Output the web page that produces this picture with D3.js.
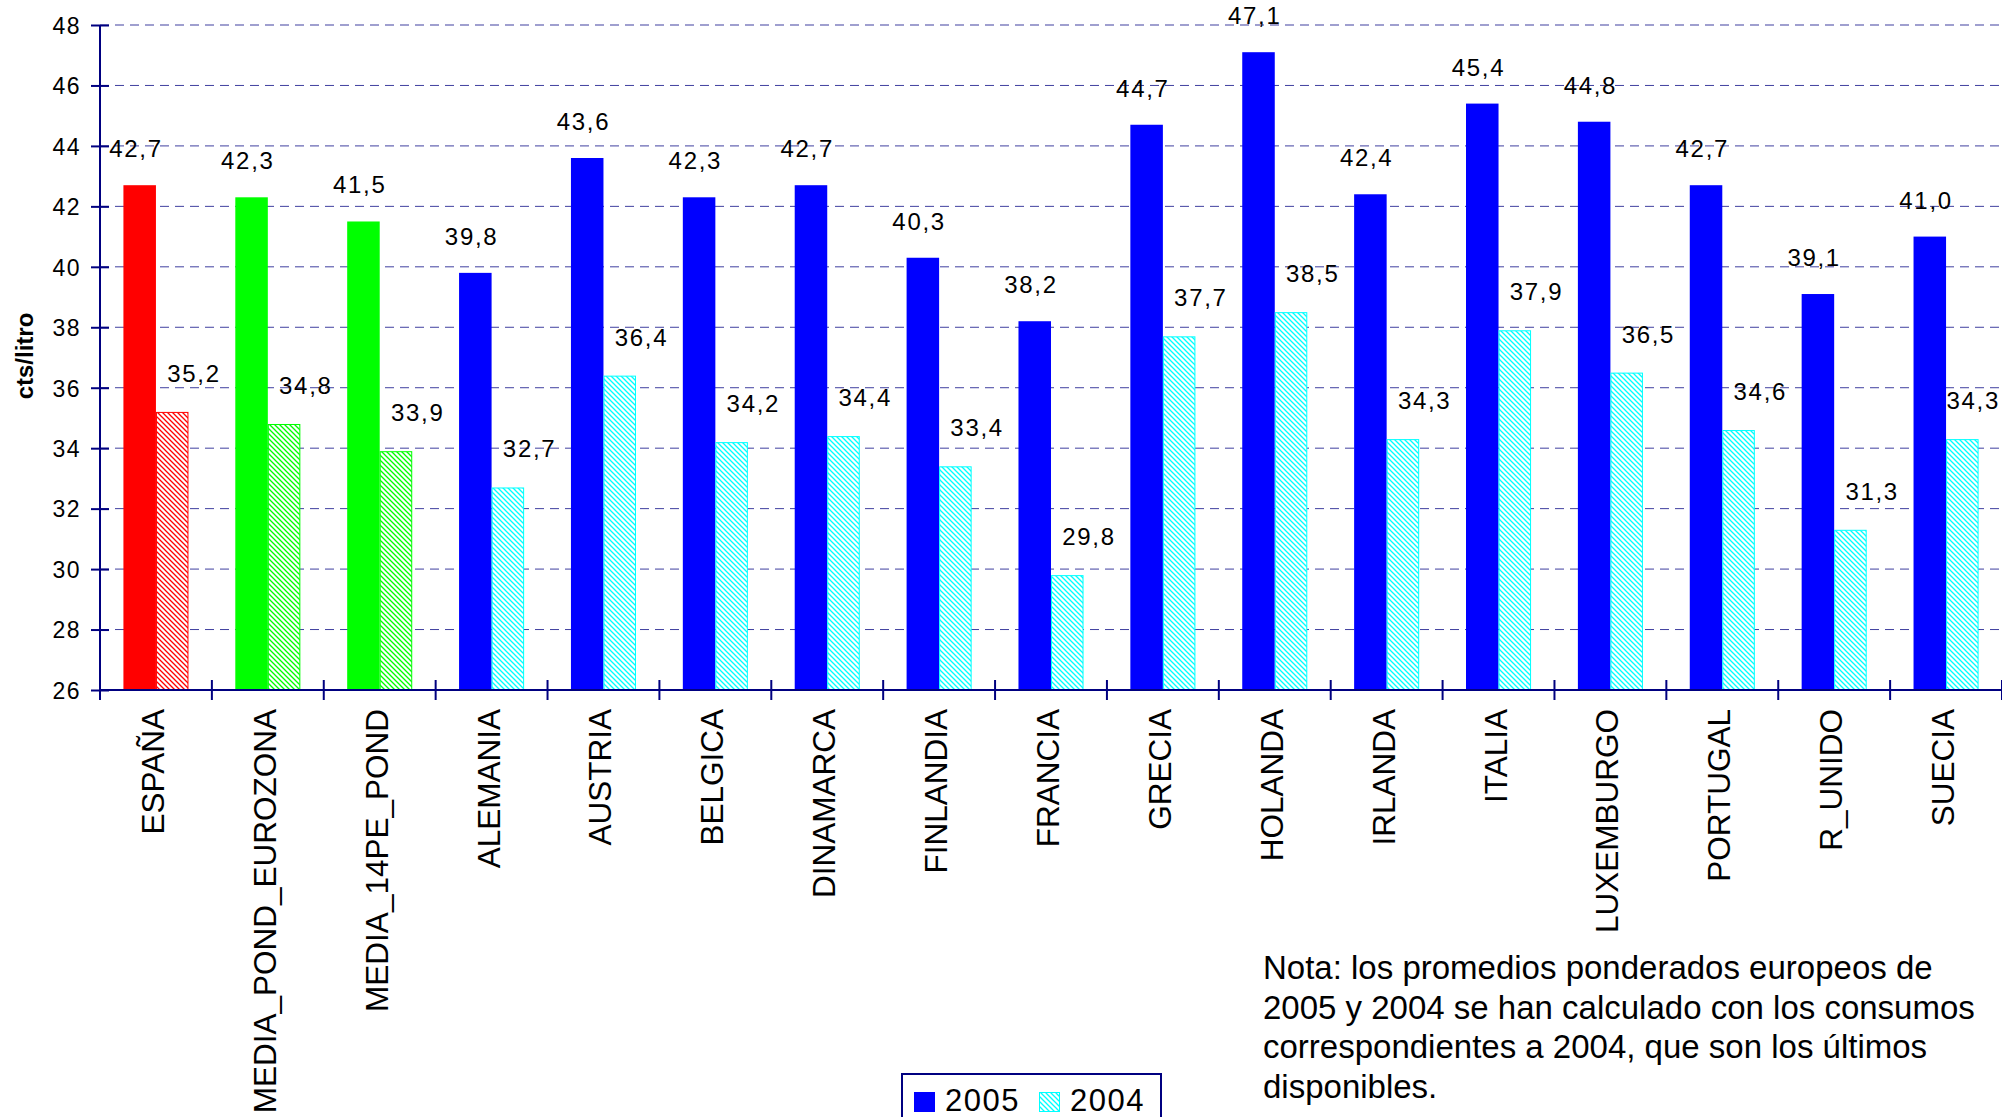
<!DOCTYPE html>
<html>
<head>
<meta charset="utf-8">
<script src="https://cdn.jsdelivr.net/npm/d3@7/dist/d3.min.js"></script>
<style>
  html, body { margin: 0; padding: 0; background: #fff; }
  svg { display: block; }
  text { font-family: "Liberation Sans", Arial, sans-serif; fill: #000; }
</style>
</head>
<body>
<svg id="chart" width="2002" height="1117"></svg>
<script>
// ---- data ----
const categories = ["ESPAÑA", "MEDIA_POND_EUROZONA", "MEDIA_14PE_POND", "ALEMANIA", "AUSTRIA", "BELGICA",
  "DINAMARCA", "FINLANDIA", "FRANCIA", "GRECIA", "HOLANDA", "IRLANDA", "ITALIA", "LUXEMBURGO",
  "PORTUGAL", "R_UNIDO", "SUECIA"];
const groups = ["es", "media", "media", "pais", "pais", "pais", "pais", "pais", "pais", "pais",
  "pais", "pais", "pais", "pais", "pais", "pais", "pais"];
const series = ["2005", "2004"];
const values2005 = [42.7, 42.3, 41.5, 39.8, 43.6, 42.3, 42.7, 40.3, 38.2, 44.7, 47.1, 42.4, 45.4, 44.8, 42.7, 39.1, 41.0];
const values2004 = [35.2, 34.8, 33.9, 32.7, 36.4, 34.2, 34.4, 33.4, 29.8, 37.7, 38.5, 34.3, 37.9, 36.5, 34.6, 31.3, 34.3];
const yTicks = [26, 28, 30, 32, 34, 36, 38, 40, 42, 44, 46, 48];
const yLabel = "cts/litro";
const noteLines = [
  "Nota: los promedios ponderados europeos de",
  "2005 y 2004 se han calculado con los consumos",
  "correspondientes a 2004, que son los últimos",
  "disponibles."
];

// ---- layout ----
const mLeft = 100, mRight = 2002, mTop = 25, mBottom = 690;
const W = 2002;
const navy = "#000080";
const groupColor = d3.scaleOrdinal().domain(["es", "media", "pais"]).range(["#ff0000", "#00ff00", "#0000ff"]);
const groupHatch = d3.scaleOrdinal().domain(["es", "media", "pais"]).range(["#ff0000", "#00ff00", "#00ffff"]);

const svg = d3.select("#chart");
const defs = svg.append("defs");
["es", "media", "pais"].forEach(g => {
  const p = defs.append("pattern").attr("id", "hatch-" + g)
    .attr("patternUnits", "userSpaceOnUse").attr("width", 5).attr("height", 5);
  p.append("rect").attr("width", 5).attr("height", 5).attr("fill", "#fff");
  p.append("path").attr("d", "M-1,-1 L6,6 M-1,4 L1,6 M4,-1 L6,1")
    .attr("stroke", groupHatch(g)).attr("stroke-width", 1.3).attr("fill", "none");
});

const x = d3.scaleBand().domain(categories).range([mLeft, mRight]).padding(0);
const x1 = d3.scaleBand().domain(series).range([0, x.bandwidth()]).paddingInner(0).paddingOuter(0.72);
const y = d3.scaleLinear().domain([26, 48]).range([mBottom, mTop]);

const fmt = d3.formatLocale({ decimal: ",", thousands: ".", grouping: [3], currency: ["", "€"] }).format(".1f");

// gridlines
svg.append("g").selectAll("line").data(yTicks.filter(t => t !== 26)).join("line")
  .attr("x1", mLeft).attr("x2", mRight)
  .attr("y1", d => y(d)).attr("y2", d => y(d))
  .attr("stroke", navy).attr("stroke-width", 1).attr("stroke-dasharray", "9,6").attr("opacity", 0.75);

// data
const rows = categories.map((c, i) => ({ c, g: groups[i], v2005: values2005[i], v2004: values2004[i] }));

const gBars = svg.append("g");
gBars.selectAll("rect.b2005").data(rows).join("rect").attr("class", "b2005")
  .attr("x", d => x(d.c) + x1("2005")).attr("width", x1.bandwidth())
  .attr("y", d => y(d.v2005)).attr("height", d => y(26) - y(d.v2005))
  .attr("fill", d => groupColor(d.g));
gBars.selectAll("rect.b2004").data(rows).join("rect").attr("class", "b2004")
  .attr("x", d => x(d.c) + x1("2004") + 0.5).attr("width", x1.bandwidth() - 1)
  .attr("y", d => y(d.v2004) + 0.5).attr("height", d => y(26) - y(d.v2004) - 0.5)
  .attr("fill", d => "url(#hatch-" + d.g + ")")
  .attr("stroke", d => groupHatch(d.g)).attr("stroke-width", 1);

// value labels
const gLab = svg.append("g").style("font-size", "24px").style("letter-spacing", "1.7px");
gLab.selectAll("text.l2005").data(rows).join("text").attr("class", "l2005")
  .attr("x", d => x(d.c) + x.bandwidth() / 2 - 20).attr("y", d => y(d.v2005) - 28)
  .attr("text-anchor", "middle").text(d => fmt(d.v2005))
  .each(function () {
    const bb = this.getBBox();
    if (bb.y < 2) this.setAttribute("y", +this.getAttribute("y") + (2 - bb.y));
  });
gLab.selectAll("text.l2004").data(rows).join("text").attr("class", "l2004")
  .attr("x", d => x(d.c) + x.bandwidth() / 2 + 38).attr("y", d => y(d.v2004) - 30)
  .attr("text-anchor", "middle").text(d => fmt(d.v2004))
  .each(function () {
    const w = this.getComputedTextLength();
    const cx = +this.getAttribute("x");
    if (cx + w / 2 > W - 2) this.setAttribute("x", W - 2 - w / 2);
  });

// y axis
const yAxis = svg.append("g").attr("transform", `translate(${mLeft},0)`)
  .call(d3.axisLeft(y).tickValues(yTicks).tickFormat(d3.format("d")).tickSize(9).tickPadding(12));
yAxis.attr("font-family", null);
yAxis.select(".domain").attr("d", `M0,${mTop}V${mBottom + 10}`).attr("stroke", navy).attr("stroke-width", 2);
yAxis.selectAll(".tick line").attr("x1", -9).attr("x2", 9).attr("stroke", navy).attr("stroke-width", 2);
yAxis.selectAll(".tick text").style("font-size", "23px").style("letter-spacing", "1.5px")
  .attr("x", -19).attr("dy", "0.36em");

// x axis
const xAxis = svg.append("g").attr("transform", `translate(0,${mBottom})`)
  .call(d3.axisBottom(x).tickSize(0));
xAxis.attr("font-family", null);
xAxis.select(".domain").attr("d", `M${mLeft},0H${mRight}`).attr("stroke", navy).attr("stroke-width", 2);
xAxis.selectAll(".tick text")
  .attr("transform", "rotate(-90)").attr("text-anchor", "end")
  .attr("x", -19).attr("y", 8).attr("dy", 0)
  .style("font-size", "31.5px");
xAxis.append("g").selectAll("line").data(d3.range(categories.length + 1)).join("line")
  .attr("x1", i => mLeft + i * x.step()).attr("x2", i => mLeft + i * x.step())
  .attr("y1", -10).attr("y2", 10).attr("stroke", navy).attr("stroke-width", 2);

// y label
svg.append("text").attr("transform", "translate(33,356) rotate(-90)")
  .attr("text-anchor", "middle").style("font-size", "24px").style("font-weight", "bold")
  .text(yLabel);

// legend
const lg = svg.append("g").attr("transform", "translate(902,1074)");
lg.append("rect").attr("width", 259).attr("height", 60).attr("fill", "#fff")
  .attr("stroke", navy).attr("stroke-width", 2);
series.forEach((s, i) => {
  const ox = [12, 137][i];
  lg.append("rect").attr("x", ox + (i ? 0.5 : 0)).attr("y", 18 + (i ? 0.5 : 0))
    .attr("width", i ? 20 : 21).attr("height", i ? 19 : 20)
    .attr("fill", i ? "url(#hatch-pais)" : groupColor("pais"))
    .attr("stroke", i ? groupHatch("pais") : "none").attr("stroke-width", 1);
  lg.append("text").attr("x", ox + 31).attr("y", 37).style("font-size", "31px")
    .style("letter-spacing", "1.5px").text(s);
});

// note
svg.append("g").selectAll("text").data(noteLines).join("text")
  .attr("x", 1263).attr("y", (d, i) => 979 + i * 39.6)
  .style("font-size", "33px").text(d => d);
</script>
</body>
</html>
